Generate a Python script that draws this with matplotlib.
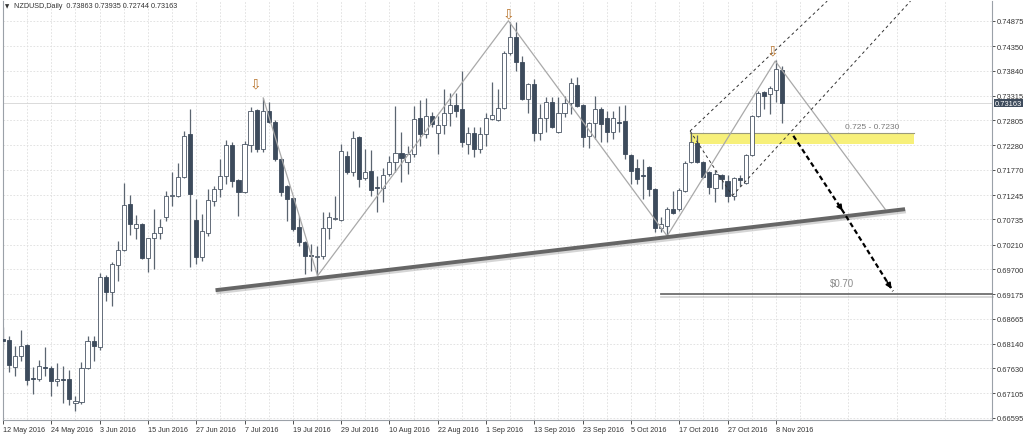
import numpy as np
import matplotlib
matplotlib.use("Agg")
import matplotlib.pyplot as plt
import matplotlib.patheffects as pe
from matplotlib.patches import Rectangle

plt.rcParams['font.family'] = ['Liberation Sans', 'DejaVu Sans']

# NZDUSD daily candles, 12 May 2016 .. 9 Nov 2016
opens = [
    0.6824, 0.6822, 0.6766, 0.6789, 0.6812, 0.6743, 0.6741, 0.6766, 0.6764, 0.6737,
    0.6741, 0.6741, 0.6691, 0.6693, 0.6764, 0.6820, 0.6808, 0.6954, 0.6922, 0.6979,
    0.7010, 0.7106, 0.7056, 0.7064, 0.6993, 0.7035, 0.7045, 0.7079, 0.7123, 0.7123,
    0.7162, 0.7252, 0.7072, 0.6995, 0.7045, 0.7112, 0.7137, 0.7164, 0.7229, 0.7156,
    0.7131, 0.7229, 0.7302, 0.7221, 0.7300, 0.7277, 0.7200, 0.7143, 0.7118, 0.7058,
    0.7027, 0.6999, 0.6995, 0.6997, 0.7056, 0.7075, 0.7072, 0.7206, 0.7173, 0.7246,
    0.7160, 0.7175, 0.7141, 0.7139, 0.7168, 0.7193, 0.7212, 0.7193, 0.7210, 0.7285,
    0.7252, 0.7289, 0.7254, 0.7271, 0.7296, 0.7312, 0.7304, 0.7231, 0.7254, 0.7221,
    0.7252, 0.7283, 0.7281, 0.7306, 0.7421, 0.7454, 0.7402, 0.7325, 0.7356, 0.7254,
    0.7285, 0.7319, 0.7256, 0.7296, 0.7317, 0.7354, 0.7312, 0.7248, 0.7275, 0.7304,
    0.7285, 0.7256, 0.7277, 0.7279, 0.7208, 0.7181, 0.7166, 0.7183, 0.7137, 0.7056,
    0.7060, 0.7095, 0.7095, 0.7133, 0.7193, 0.7233, 0.7193, 0.7173, 0.7139, 0.7166,
    0.7154, 0.7123, 0.7160, 0.7150, 0.7208, 0.7289, 0.7340, 0.7335, 0.7344, 0.73863,
]
highs = [
    0.6849, 0.6830, 0.6810, 0.6843, 0.6814, 0.6766, 0.6780, 0.6808, 0.6768, 0.6774,
    0.6768, 0.6760, 0.6705, 0.6776, 0.6830, 0.6830, 0.6962, 0.6958, 0.6985, 0.7029,
    0.7150, 0.7125, 0.7083, 0.7066, 0.7035, 0.7095, 0.7075, 0.7133, 0.7173, 0.7191,
    0.7258, 0.7304, 0.7116, 0.7085, 0.7137, 0.7143, 0.7200, 0.7239, 0.7235, 0.7158,
    0.7237, 0.7308, 0.7304, 0.7327, 0.7319, 0.7281, 0.7204, 0.7145, 0.7120, 0.7081,
    0.7029, 0.7022, 0.7018, 0.7089, 0.7089, 0.7123, 0.7231, 0.7216, 0.7258, 0.7248,
    0.7221, 0.7218, 0.7164, 0.7181, 0.7206, 0.7310, 0.7256, 0.7227, 0.7310, 0.7323,
    0.7327, 0.7298, 0.7289, 0.7346, 0.7337, 0.7337, 0.7383, 0.7266, 0.7266, 0.7266,
    0.7296, 0.7360, 0.7346, 0.7425, 0.7485, 0.7485, 0.7415, 0.7358, 0.7367, 0.7314,
    0.7329, 0.7329, 0.7329, 0.7331, 0.7369, 0.7371, 0.7314, 0.7277, 0.7331, 0.7308,
    0.7300, 0.7300, 0.7310, 0.7312, 0.7210, 0.7200, 0.7200, 0.7185, 0.7139, 0.7079,
    0.7100, 0.7133, 0.7139, 0.7196, 0.7254, 0.7250, 0.7195, 0.7175, 0.7177, 0.7168,
    0.7166, 0.7162, 0.7166, 0.7210, 0.7291, 0.7342, 0.7342, 0.7352, 0.7406, 0.73935,
]
lows = [
    0.6803, 0.6755, 0.6747, 0.6778, 0.6728, 0.6709, 0.6737, 0.6747, 0.6705, 0.6726,
    0.6691, 0.6687, 0.6674, 0.6689, 0.6762, 0.6778, 0.6801, 0.6903, 0.6893, 0.6945,
    0.7008, 0.7041, 0.7033, 0.6991, 0.6964, 0.6970, 0.7033, 0.7070, 0.7102, 0.7120,
    0.7160, 0.6974, 0.6981, 0.6987, 0.7039, 0.7102, 0.7120, 0.7148, 0.7141, 0.7081,
    0.7129, 0.7214, 0.7214, 0.7214, 0.7275, 0.7196, 0.7123, 0.7070, 0.7049, 0.7018,
    0.6960, 0.6966, 0.6956, 0.6991, 0.7033, 0.7072, 0.7070, 0.7168, 0.7164, 0.7141,
    0.7156, 0.7123, 0.7089, 0.7110, 0.7164, 0.7173, 0.7152, 0.7168, 0.7204, 0.7227,
    0.7243, 0.7266, 0.7210, 0.7252, 0.7269, 0.7287, 0.7225, 0.7210, 0.7204, 0.7212,
    0.7227, 0.7281, 0.7279, 0.7304, 0.7417, 0.7383, 0.7323, 0.7296, 0.7237, 0.7239,
    0.7256, 0.7264, 0.7254, 0.7287, 0.7294, 0.7308, 0.7225, 0.7223, 0.7241, 0.7235,
    0.7235, 0.7241, 0.7256, 0.7200, 0.7148, 0.7148, 0.7116, 0.7123, 0.7047, 0.7047,
    0.7041, 0.7085, 0.7091, 0.7131, 0.7191, 0.7191, 0.7160, 0.7127, 0.7110, 0.7137,
    0.7110, 0.7114, 0.7143, 0.7148, 0.7206, 0.7287, 0.7304, 0.7294, 0.7319, 0.72744,
]
closes = [
    0.6820, 0.6770, 0.6789, 0.6810, 0.6739, 0.6741, 0.6768, 0.6764, 0.6737, 0.6741,
    0.6739, 0.6699, 0.6695, 0.6764, 0.6820, 0.6810, 0.6954, 0.6922, 0.6981, 0.7010,
    0.7104, 0.7064, 0.7064, 0.6993, 0.7035, 0.7045, 0.7058, 0.7123, 0.7125, 0.7162,
    0.7248, 0.7127, 0.6995, 0.7049, 0.7114, 0.7137, 0.7164, 0.7229, 0.7154, 0.7131,
    0.7231, 0.7300, 0.7221, 0.7300, 0.7277, 0.7200, 0.7131, 0.7116, 0.7054, 0.7027,
    0.6997, 0.6997, 0.6997, 0.7056, 0.7079, 0.7077, 0.7216, 0.7173, 0.7243, 0.7158,
    0.7173, 0.7135, 0.7139, 0.7166, 0.7193, 0.7212, 0.7202, 0.7210, 0.7283, 0.7252,
    0.7289, 0.7273, 0.7271, 0.7296, 0.7312, 0.7300, 0.7235, 0.7254, 0.7221, 0.7252,
    0.7285, 0.7291, 0.7306, 0.7421, 0.7454, 0.7402, 0.7325, 0.7356, 0.7254, 0.7285,
    0.7319, 0.7266, 0.7296, 0.7317, 0.7358, 0.7310, 0.7246, 0.7275, 0.7304, 0.7273,
    0.7256, 0.7285, 0.7275, 0.7210, 0.7175, 0.7158, 0.7164, 0.7137, 0.7056, 0.7064,
    0.7095, 0.7087, 0.7135, 0.7191, 0.7235, 0.7193, 0.7162, 0.7141, 0.7168, 0.7158,
    0.7123, 0.7160, 0.7156, 0.7208, 0.7289, 0.7337, 0.7331, 0.7348, 0.7387, 0.73163,
]

date_labels = ['12 May 2016', '24 May 2016', '3 Jun 2016', '15 Jun 2016', '27 Jun 2016',
               '7 Jul 2016', '19 Jul 2016', '29 Jul 2016', '10 Aug 2016', '22 Aug 2016',
               '1 Sep 2016', '13 Sep 2016', '23 Sep 2016', '5 Oct 2016', '17 Oct 2016',
               '27 Oct 2016', '8 Nov 2016']
price_ticks = [0.74875, 0.74350, 0.73840, 0.73315, 0.72805, 0.72280, 0.71770, 0.71245,
               0.70735, 0.70210, 0.69700, 0.69175, 0.68665, 0.68140, 0.67630, 0.67105, 0.66595]

# drawings on the chart (bar index, price)
zigzag_x = [43.1, 52.1, 83.7, 110.0, 127.9, 146.1]
zigzag_y = [0.7327, 0.6956, 0.7488, 0.7039, 0.7404, 0.7095]
trend_x = [35.2, 149.4]
trend_y = [0.6926, 0.7095]
fractal_x = [41.8, 83.7, 127.5]
fractal_y = [0.7358, 0.7504, 0.7427]
zone_x = [113.8, 150.8]
zone_y = [0.7230, 0.7253]
zone_label = '0.725 - 0.7230'
zone_label_pos = (144.0, 0.7261)
path_x = [130.9, 139.3, 147.4]
path_y = [0.7248, 0.7087, 0.6924]
target_y = 0.6917
target_start = 108.9
target_label = '$0.70'
target_label_pos = (139.0, 0.6940)
chan_upper_x, chan_upper_y = [113.8, 136.5], [0.7258, 0.7529]
chan_lower_x, chan_lower_y = [120.8, 150.3], [0.7123, 0.7529]
last_price = 0.73163
title = 'NZDUSD,Daily  0.73863 0.73935 0.72744 0.73163'

o = np.array(opens); h = np.array(highs); l = np.array(lows); c = np.array(closes)
x = np.arange(len(o))
up = c >= o

fig = plt.figure(figsize=(10.24, 4.39), dpi=100)
ax = fig.add_axes([3 / 1024, 18 / 439, 989 / 1024, 419 / 439])
ax.set_xlim(0.08, 163.8)
ax.set_ylim(0.66552, 0.75292)

# grid
ax.set_xticks(np.arange(0, 129, 8))
ax.set_xticks(np.arange(4, 164, 8), minor=True)
ax.set_yticks(price_ticks)
ax.grid(True, which='both', color='#dedede', linestyle=(0, (2, 2)), lw=0.6)
ax.set_axisbelow(True)

# candles
ax.vlines(x, l, h, colors='#5b6570', lw=0.9, zorder=2)
body_w = 0.68
hgt = np.maximum(np.abs(c - o), 0.00004)
ax.bar(x[up], hgt[up], bottom=np.minimum(o, c)[up], width=body_w, color='white',
       edgecolor='#4a5564', lw=0.6, zorder=3)
ax.bar(x[~up], hgt[~up], bottom=np.minimum(o, c)[~up], width=body_w, color='#3d4b5c',
       edgecolor='#3d4b5c', lw=0.6, zorder=3)

# current price line
ax.axhline(last_price, color='#d4d4d4', lw=0.6, zorder=1)

# yellow zone
ax.add_patch(Rectangle((zone_x[0], zone_y[0]), zone_x[1] - zone_x[0], zone_y[1] - zone_y[0],
                       facecolor='#f7f07a', edgecolor='none', zorder=1.5))
ax.plot(zone_x, [zone_y[1], zone_y[1]], color='#9a9a7a', lw=0.8, zorder=1.6)
ax.text(zone_label_pos[0], zone_label_pos[1], zone_label, fontsize=6, color='#7a7a7a',
        ha='center', va='bottom')

# zigzag
ax.plot(zigzag_x, zigzag_y, color='#a9a9a9', lw=0.9, zorder=4)

# channel (dashed)
ax.plot(chan_upper_x, chan_upper_y, color='#333333', lw=0.7, ls=(0, (3, 3)), zorder=4)
ax.plot(chan_lower_x, chan_lower_y, color='#333333', lw=0.7, ls=(0, (3, 3)), zorder=4)
ax.plot([chan_upper_x[0], chan_lower_x[0]], [chan_upper_y[0], chan_lower_y[0]],
        color='#333333', lw=0.7, ls=(0, (3, 3)), zorder=4)

# neckline
shadow = [pe.SimpleLineShadow(offset=(0.6, -1.6), shadow_color='#888888', alpha=0.35), pe.Normal()]
ax.plot(trend_x, trend_y, color='#666666', lw=2.8, solid_capstyle='butt', zorder=5,
        path_effects=shadow)

# target line
ax.plot([target_start, 163.8], [target_y, target_y], color='#6f6f6f', lw=1.3, zorder=5,
        path_effects=shadow, clip_on=False)
ax.text(target_label_pos[0], target_label_pos[1], target_label, fontsize=7,
        color='#8c8c8c', ha='center', va='center')

# projected path
ax.plot(path_x, path_y, color='black', lw=1.6, ls=(0, (2.2, 1.4)), zorder=6)
for k in (1, 2):
    ax.annotate('', xy=(path_x[k], path_y[k]),
                xytext=(path_x[k] - 0.15 * (path_x[k] - path_x[k - 1]),
                        path_y[k] - 0.15 * (path_y[k] - path_y[k - 1])),
                arrowprops=dict(arrowstyle='-|>', color='black', lw=1.2, mutation_scale=8),
                zorder=6)

# fractal arrows
for fx, fy in zip(fractal_x, fractal_y):
    ax.text(fx, fy, '\u21e9', family=['DejaVu Sans'], fontsize=10, color='#b8742c',
            ha='center', va='center', zorder=6)

# axes styling
ax.spines['top'].set_visible(False)
for side in ['left', 'right', 'bottom']:
    ax.spines[side].set_color('#9ba1a8')
    ax.spines[side].set_linewidth(0.8)
ax.yaxis.tick_right()
ax.set_xticklabels(date_labels)
ax.set_yticklabels(['%.5f' % v for v in price_ticks])
ax.tick_params(axis='x', which='major', direction='out', length=3, width=0.6, pad=1.5,
               labelsize=5.2, colors='#333333')
ax.tick_params(axis='x', which='minor', length=0)
ax.tick_params(axis='y', direction='out', length=2.5, width=0.6, pad=1, labelsize=5.4,
               colors='#333333')
plt.setp(ax.get_xticklabels(), ha='left')

ax.annotate('%.5f' % last_price, xy=(1, last_price), xycoords=('axes fraction', 'data'),
            xytext=(2.2, 0), textcoords='offset points', va='center', ha='left',
            fontsize=5.4, color='white',
            bbox=dict(boxstyle='square,pad=0.12', fc='#3d4b5c', ec='none'), zorder=10)

fig.text(5 / 1024, 1 - 7 / 439, '\u25bc', family=['DejaVu Sans'], fontsize=4,
         color='#333333', va='center')
fig.text(14 / 1024, 1 - 7 / 439, title, fontsize=5.2, color='#333333', va='center')

fig.savefig('out.png', dpi=100, facecolor='white')
